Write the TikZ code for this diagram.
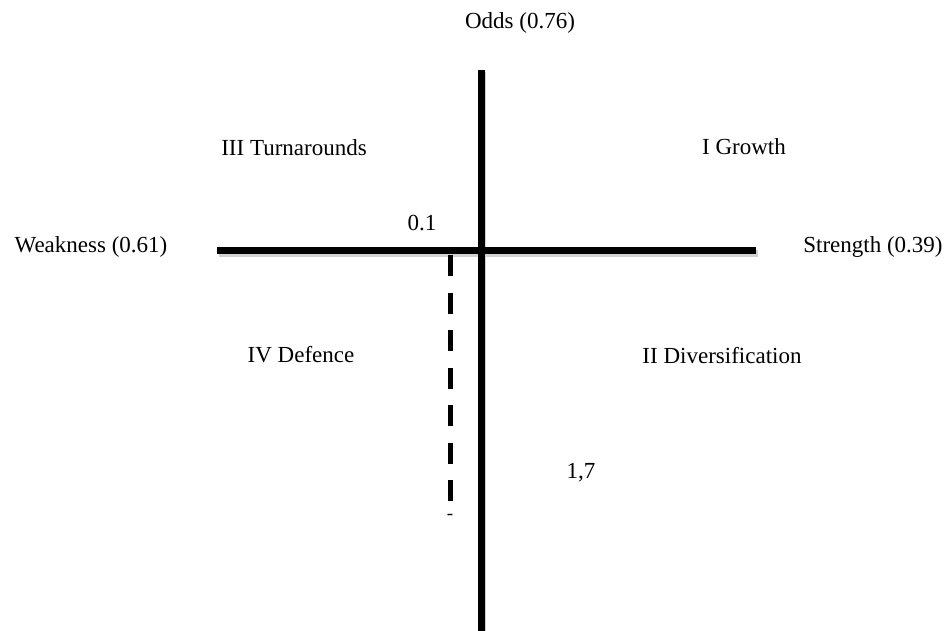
\documentclass[tikz,border=0pt]{standalone}
\usepackage{fontspec}
\setmainfont{Liberation Serif}
\usepackage{tikz}
\usetikzlibrary{positioning, calc}

\begin{document}
\begin{tikzpicture}[
    x=1pt, y=-1pt,
    lbl/.style={inner sep=0pt, font=\fontsize{23}{27}\selectfont},
    axis/.style={line width=7pt, black},
    axshadow/.style={line width=7.5pt, black!18, transform canvas={shift={(1.5pt,-2.5pt)}}},
    cut/.style={line width=5pt, black, dash pattern=on 21pt off 16.5pt},
]
    \useasboundingbox (0,0) rectangle (948,631);

    % Coordinates
    \coordinate (top) at (481,70);
    \coordinate (bottom) at (481,631);
    \coordinate (left) at (217,251);
    \coordinate (right) at (756,251);
    \coordinate (cuttop) at (450,255);
    \coordinate (cutend) at (450,501);

    % Labels
    \node[lbl] (odds) at (520,23) {Odds (0.76)};
    \node[lbl] (weak) at (91,247) {Weakness (0.61)};
    \node[lbl] (strong) at (873,247) {Strength (0.39)};
    \node[lbl] (turn) at (294,148) {III Turnarounds};
    \node[lbl] (growth) at (744,147) {I Growth};
    \node[lbl] (defence) at (301,355) {IV Defence};
    \node[lbl] (divers) at (722,356) {II Diversification};
    \node[lbl] (cutval) at (422,223) {0.1};
    \node[lbl] (oddsval) at (581,473) {1,7};
    \node[lbl, font=\fontsize{19}{22}\selectfont] (cutmark) at (450,517) {-};

    % Axes
    \draw[axshadow] (left) -- (right);
    \draw[axshadow] (top) -- (bottom);
    \draw[axis] (left) -- (right);
    \draw[axis] (top) -- (bottom);
    \draw[cut] (cuttop) -- (cutend);
\end{tikzpicture}
\end{document}
